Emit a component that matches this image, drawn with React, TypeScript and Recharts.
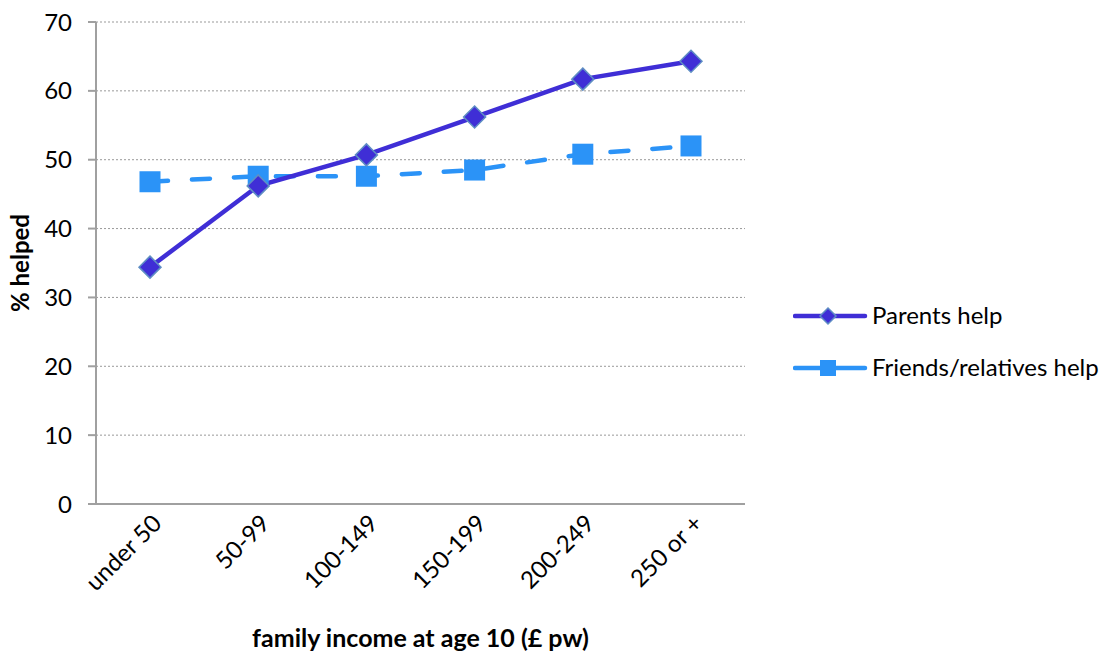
import { CartesianGrid, Line, LineChart, XAxis, YAxis } from "recharts";

const incomeBands = ["under 50", "50-99", "100-149", "150-199", "200-249", "250 or +"];
const parentsHelp = [34.4, 46.2, 50.7, 56.2, 61.7, 64.3];
const friendsHelp = [46.8, 47.6, 47.6, 48.5, 50.8, 52.0];
const yTicks = [0, 10, 20, 30, 40, 50, 60, 70];

const PARENTS = "#3F2ED6";
const FRIENDS = "#2B93F7";
const AXIS = "#A0A0A0";
const FONT = "Lato, 'Open Sans', sans-serif";
const FS = 24;

const data = incomeBands.map((band, i) => ({
  band,
  parents: parentsHelp[i],
  friends: friendsHelp[i],
}));

const Diamond = (props: any) => {
  const { cx, cy } = props;
  if (cx == null || cy == null) return null;
  const r = 11;
  return (
    <path
      d={`M${cx},${cy - r}L${cx + r},${cy}L${cx},${cy + r}L${cx - r},${cy}Z`}
      fill={PARENTS}
      stroke="#5F8EC4"
      strokeWidth={1.5}
    />
  );
};

const Square = (props: any) => {
  const { cx, cy } = props;
  if (cx == null || cy == null) return null;
  const s = 10.5;
  return <rect x={cx - s} y={cy - s} width={s * 2} height={s * 2} fill={FRIENDS} />;
};

const BandTick = (props: any) => {
  const { x, y, payload } = props;
  return (
    <text
      transform={`translate(${x + 13},${y + 13}) rotate(-45)`}
      textAnchor="end"
      fontSize={FS}
      fontFamily={FONT}
      fill="#000"
    >
      {payload.value}
    </text>
  );
};

const LegendBox = () => (
  <svg width={320} height={110} style={{ position: "absolute", left: 793, top: 295 }}>
    <line x1={2} y1={21} x2={72} y2={21} stroke={PARENTS} strokeWidth={4.5} strokeLinecap="round" />
    <path d="M35,13L43,21L35,29L27,21Z" fill={PARENTS} stroke="#5F8EC4" strokeWidth={1.5} />
    <text x={79} y={29} fontSize={FS} fontFamily={FONT} fill="#000">
      Parents help
    </text>
    <line x1={2} y1={73} x2={72} y2={73} stroke={FRIENDS} strokeWidth={4.5} strokeLinecap="round" />
    <rect x={27} y={65} width={16} height={16} fill={FRIENDS} />
    <text x={79} y={81} fontSize={FS} fontFamily={FONT} fill="#000">
      Friends/relatives help
    </text>
  </svg>
);

export default function App() {
  return (
    <div style={{ position: "absolute", left: 0, top: 0, width: 1109, height: 652, background: "#fff" }}>
      <LineChart
        width={1109}
        height={652}
        data={data}
        margin={{ top: 22, right: 364, bottom: 0, left: 0 }}
      >
        <CartesianGrid
          vertical={false}
          stroke="#999"
          strokeDasharray="2 2"
          strokeWidth={1}
        />
        <XAxis
          dataKey="band"
          height={148}
          stroke={AXIS}
          strokeWidth={2}
          tickLine={false}
          tick={<BandTick />}
          interval={0}
          padding={{ left: 54, right: 54 }}
          label={{
            value: "family income at age 10 (£ pw)",
            position: "insideBottom",
            offset: 5,
            style: { fontSize: 25, fontWeight: 700, fontFamily: FONT, fill: "#000" },
          }}
        />
        <YAxis
          width={96}
          domain={[0, 70]}
          ticks={yTicks}
          interval={0}
          stroke={AXIS}
          strokeWidth={2}
          tickSize={8}
          tickMargin={16}
          tick={{ fontSize: FS, fontFamily: FONT, fill: "#000" }}
          label={{
            value: "% helped",
            angle: -90,
            position: "insideLeft",
            offset: 20,
            style: { fontSize: FS, fontWeight: 700, fontFamily: FONT, fill: "#000", textAnchor: "middle" },
          }}
        />
        <Line
          dataKey="friends"
          stroke={FRIENDS}
          strokeWidth={4.5}
          strokeDasharray="18 24"
          strokeLinecap="round"
          dot={<Square />}
          activeDot={false}
          isAnimationActive={false}
        />
        <Line
          dataKey="parents"
          stroke={PARENTS}
          strokeWidth={4.5}
          dot={<Diamond />}
          activeDot={false}
          isAnimationActive={false}
        />
      </LineChart>
      <LegendBox />
    </div>
  );
}
